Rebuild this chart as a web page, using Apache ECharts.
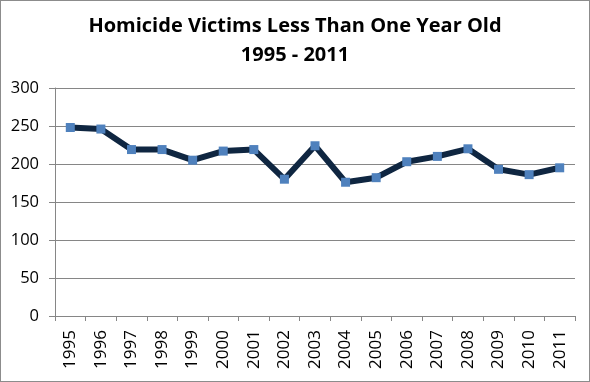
<!DOCTYPE html>
<html><head><meta charset="utf-8">
<script src="https://cdn.jsdelivr.net/npm/echarts@6/dist/echarts.min.js"></script>
<style>html,body{margin:0;padding:0;background:#fff}#c{width:590px;height:382px;box-sizing:border-box;border:1px solid #8c8c8c}</style>
</head><body><div id="c"></div>
<script>
var years = ['1995','1996','1997','1998','1999','2000','2001','2002','2003','2004','2005','2006','2007','2008','2009','2010','2011'];
var victims = [248, 246, 219, 219, 205, 217, 219, 180, 224, 176, 182, 203, 210, 220, 193, 186, 195];
var titleLines = 'Homicide Victims Less Than One Year Old\n1995 - 2011';
var chart = echarts.init(document.getElementById('c'));
chart.setOption({
  animation: false,
  title: {
    text: titleLines, left: 'center', top: 6,
    textStyle: {fontFamily: 'Open Sans', fontWeight: 'bold', fontSize: 20, color: '#000', lineHeight: 29}
  },
  grid: {left: 54, right: 14, top: 87, bottom: 65, containLabel: false},
  xAxis: {
    type: 'category', data: years, boundaryGap: true,
    axisLine: {lineStyle: {color: '#868686', width: 1}},
    axisTick: {show: true, alignWithLabel: false, length: 5, lineStyle: {color: '#868686'}},
    axisLabel: {rotate: 90, color: '#000', fontFamily: 'Open Sans', fontSize: 17, margin: 14}
  },
  yAxis: {
    type: 'value', min: 0, max: 300, interval: 50,
    axisLine: {show: true, lineStyle: {color: '#868686', width: 1}},
    axisTick: {show: true, length: 6, lineStyle: {color: '#868686'}},
    axisLabel: {color: '#000', fontFamily: 'Open Sans', fontSize: 16.5, margin: 16},
    splitLine: {lineStyle: {color: '#868686', width: 1}}
  },
  series: [{
    type: 'line', data: victims,
    symbol: 'rect', symbolSize: 9,
    lineStyle: {color: '#0f2641', width: 6},
    itemStyle: {color: '#4f81bd', borderWidth: 0}
  }]
});
</script></body></html>
